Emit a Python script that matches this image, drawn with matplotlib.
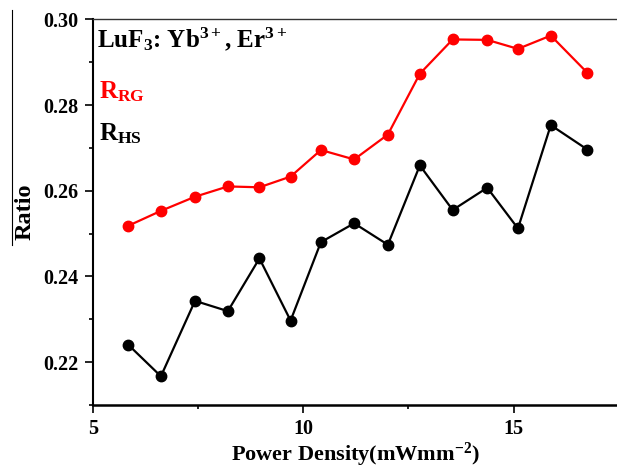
import matplotlib
matplotlib.use("Agg")
import matplotlib.pyplot as plt
from matplotlib.lines import Line2D
from matplotlib.ticker import MultipleLocator, FormatStrFormatter

plt.rcParams['font.family'] = ['Liberation Serif', 'DejaVu Serif']
plt.rcParams['font.weight'] = 'bold'
plt.rcParams['mathtext.fontset'] = 'custom'
plt.rcParams['mathtext.rm'] = 'Liberation Serif:bold'
plt.rcParams['mathtext.it'] = 'Liberation Serif:bold'
plt.rcParams['mathtext.bf'] = 'Liberation Serif:bold'

power = [5.84, 6.62, 7.43, 8.21, 8.96, 9.70, 10.42, 11.21, 12.01,
         12.77, 13.55, 14.37, 15.10, 15.88, 16.75]
r_rg = [0.2518, 0.2553, 0.2586, 0.2610, 0.2608, 0.2633, 0.2695, 0.2673,
        0.2731, 0.2873, 0.2953, 0.2952, 0.2931, 0.2962, 0.2875]
r_hs = [0.2241, 0.2167, 0.2343, 0.2319, 0.2442, 0.2297, 0.2480, 0.2524,
        0.2474, 0.2659, 0.2555, 0.2607, 0.2512, 0.2753, 0.2696]

fig = plt.figure(figsize=(6.17, 4.68), dpi=100)
# axes run slightly past the right edge, as in the source
ax = fig.add_axes([92.7 / 617, 63 / 468, (619 - 92.7) / 617, (405 - 19.3) / 468])

ax.plot(power, r_rg, color='red', lw=1.6, marker='o', ms=7.5)
ax.plot(power, r_hs, color='black', lw=1.6, marker='o', ms=7.5)

ax.set_xlim(5, 17.5)
ax.set_ylim(0.21, 0.30)
ax.xaxis.set_major_locator(MultipleLocator(5))
ax.xaxis.set_minor_locator(MultipleLocator(2.5))
ax.yaxis.set_major_locator(MultipleLocator(0.02))
ax.yaxis.set_minor_locator(MultipleLocator(0.01))
ax.yaxis.set_major_formatter(FormatStrFormatter('%.2f'))
ax.tick_params(which='major', length=6, width=1.2, labelsize=14.5, direction='out', pad=4)
ax.tick_params(which='minor', length=3, width=1.2, direction='out')
for lab in ax.get_xticklabels() + ax.get_yticklabels():
    lab.set_fontweight('bold')

ax.spines['left'].set_linewidth(1.5)
ax.spines['bottom'].set_linewidth(1.8)
ax.spines['top'].set_linewidth(1.0)
ax.spines['top'].set_color('#333333')
ax.spines['right'].set_visible(False)

ax.set_ylabel('Ratio', fontsize=17.5, fontweight='bold', labelpad=6)
ax.set_xlabel(r'Power Density(mWmm$^{-2}$)', fontsize=16, fontweight='bold', labelpad=1.5)

ax.text(0.008, 0.985, r'LuF$_{3}$: Yb$^{3+}$, Er$^{3+}$', transform=ax.transAxes,
        fontsize=18, fontweight='bold', va='top', ha='left')
ax.text(0.012, 0.845, r'R$_{\mathrm{RG}}$', transform=ax.transAxes, color='red',
        fontsize=18, fontweight='bold', va='top', ha='left')
ax.text(0.012, 0.735, r'R$_{\mathrm{HS}}$', transform=ax.transAxes, color='black',
        fontsize=18, fontweight='bold', va='top', ha='left')

# thin border line left over on the left edge of the source image
fig.add_artist(Line2D([12 / 617, 12 / 617], [1 - 10 / 468, 1 - 245 / 468],
                      color='black', lw=0.8))

fig.savefig('out.png', dpi=100)
